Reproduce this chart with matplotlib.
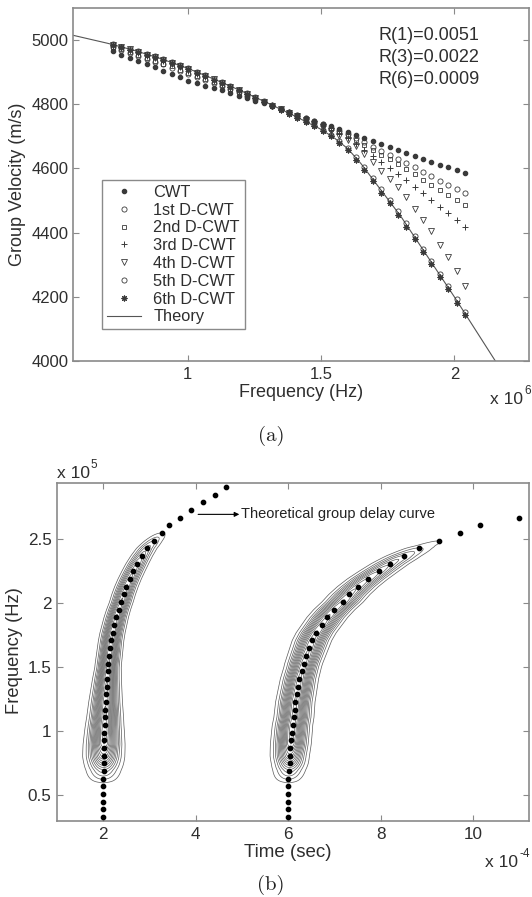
import numpy as np
import matplotlib
matplotlib.use('Agg')
import matplotlib.pyplot as plt

plt.rcParams['font.family'] = ['Liberation Sans', 'DejaVu Sans']

# ---------------- (a) group velocity data ----------------
freq_a = [0.720, 0.751, 0.783, 0.814, 0.846, 0.877, 0.909, 0.940, 0.971, 1.003,
          1.034, 1.066, 1.097, 1.129, 1.160, 1.191, 1.223, 1.254, 1.286, 1.317,
          1.349, 1.380, 1.411, 1.443, 1.474, 1.506, 1.537, 1.569, 1.600, 1.631,
          1.663, 1.694, 1.726, 1.757, 1.789, 1.820, 1.851, 1.883, 1.914, 1.946,
          1.977, 2.009, 2.040]
cwt = [4965, 4955, 4945, 4935, 4925, 4915, 4905, 4895, 4885, 4874, 4866, 4858, 4850, 4843, 4835,
       4827, 4819, 4811, 4803, 4795, 4786, 4777, 4768, 4758, 4749, 4740, 4731, 4722, 4713, 4704,
       4694, 4685, 4676, 4667, 4658, 4649, 4640, 4631, 4621, 4612, 4603, 4594, 4585]
dcwt1 = [4977, 4968, 4960, 4951, 4942, 4933, 4924, 4914, 4905, 4894, 4885, 4876, 4866, 4857, 4847,
         4837, 4827, 4816, 4806, 4796, 4786, 4776, 4767, 4756, 4747, 4737, 4727, 4716, 4706, 4694,
         4681, 4668, 4655, 4642, 4630, 4617, 4603, 4590, 4576, 4562, 4549, 4535, 4522]
dcwt2 = [4979, 4971, 4963, 4954, 4945, 4936, 4927, 4918, 4908, 4898, 4888, 4879, 4869, 4859, 4849,
         4839, 4828, 4817, 4807, 4796, 4786, 4776, 4766, 4755, 4745, 4735, 4724, 4713, 4701, 4688,
         4673, 4658, 4643, 4628, 4613, 4597, 4582, 4565, 4549, 4533, 4517, 4501, 4485]
dcwt3 = [4983, 4975, 4968, 4960, 4951, 4943, 4934, 4925, 4916, 4905, 4895, 4885, 4875, 4864, 4853,
         4842, 4831, 4819, 4808, 4797, 4785, 4775, 4765, 4753, 4743, 4732, 4720, 4707, 4694, 4677,
         4659, 4640, 4621, 4602, 4584, 4564, 4543, 4523, 4502, 4481, 4461, 4440, 4419]
dcwt4 = [4985, 4978, 4971, 4963, 4955, 4947, 4938, 4929, 4920, 4910, 4899, 4889, 4878, 4867, 4855,
         4844, 4832, 4820, 4808, 4796, 4785, 4774, 4762, 4751, 4740, 4729, 4716, 4702, 4689, 4669,
         4646, 4620, 4591, 4567, 4542, 4510, 4474, 4439, 4404, 4363, 4323, 4280, 4234]
dcwt5 = [4987, 4980, 4973, 4965, 4957, 4949, 4940, 4931, 4922, 4912, 4901, 4891, 4880, 4869, 4857,
         4846, 4834, 4822, 4810, 4798, 4786, 4774, 4761, 4748, 4735, 4721, 4704, 4684, 4664, 4637,
         4605, 4571, 4535, 4501, 4466, 4429, 4390, 4350, 4312, 4272, 4233, 4192, 4152]
dcwt6 = [4984, 4977, 4970, 4962, 4954, 4946, 4937, 4928, 4919, 4909, 4898, 4888, 4877, 4866, 4854,
         4843, 4831, 4819, 4807, 4795, 4782, 4770, 4757, 4744, 4731, 4717, 4700, 4680, 4656, 4627,
         4595, 4561, 4525, 4491, 4456, 4419, 4380, 4340, 4302, 4262, 4223, 4182, 4142]
theory_f = [0.57, 0.70, 0.80, 0.90, 1.00, 1.10, 1.20, 1.30, 1.40, 1.50, 1.55, 1.60, 1.65,
            1.70, 1.80, 1.90, 2.00, 2.10, 2.20, 2.28]
theory_v = [5015, 4990, 4968, 4942, 4912, 4878, 4842, 4804, 4764, 4722, 4695, 4662, 4615,
            4560, 4450, 4325, 4200, 4070, 3940, 3835]
legend_labels = ['CWT', '1st D-CWT', '2nd D-CWT', '3rd D-CWT', '4th D-CWT',
                 '5th D-CWT', '6th D-CWT', 'Theory']
r_texts = ['R(1)=0.0051', 'R(3)=0.0022', 'R(6)=0.0009']

# ---------------- (b) group delay data ----------------
freq_b = [0.33, 0.39, 0.45, 0.51, 0.57, 0.63, 0.69, 0.75, 0.81, 0.87, 0.93, 0.99, 1.05,
          1.11, 1.17, 1.23, 1.29, 1.35, 1.41, 1.47, 1.53, 1.59, 1.65, 1.71, 1.77, 1.83,
          1.89, 1.95, 2.01, 2.07, 2.13, 2.19, 2.25, 2.31, 2.37, 2.43, 2.49, 2.55, 2.61,
          2.67, 2.73, 2.79, 2.85, 2.91]
delay1 = [2.00, 2.00, 2.00, 2.00, 2.00, 2.00, 2.005, 2.01, 2.01, 2.015, 2.02, 2.025, 2.03,
          2.04, 2.045, 2.05, 2.06, 2.07, 2.08, 2.095, 2.11, 2.13, 2.15, 2.17, 2.20, 2.24,
          2.28, 2.33, 2.39, 2.44, 2.50, 2.57, 2.65, 2.735, 2.83, 2.94, 3.09, 3.26, 3.43,
          3.66, 3.90, 4.15, 4.41, 4.65]
delay2 = [6.00, 6.00, 6.00, 6.00, 6.00, 6.00, 6.015, 6.03, 6.03, 6.045, 6.06, 6.075, 6.09,
          6.12, 6.135, 6.15, 6.18, 6.21, 6.24, 6.285, 6.33, 6.39, 6.45, 6.51, 6.60, 6.72,
          6.84, 6.99, 7.17, 7.32, 7.50, 7.71, 7.95, 8.20, 8.49, 8.82, 9.25, 9.70, 10.15,
          10.98, 11.70, 12.45, 13.23, 13.95]
# ridge envelope of the scalogram (contours)
amp1_f = [0.50, 0.60, 0.70, 0.80, 0.90, 1.00, 1.20, 1.50, 1.80, 2.10, 2.30, 2.45, 2.55, 2.65]
amp1_v = [0.00, 0.05, 0.30, 0.70, 0.95, 1.00, 0.95, 0.85, 0.75, 0.60, 0.45, 0.25, 0.05, 0.00]
wid1_f = [0.5, 0.8, 1.5, 2.0, 2.5]
wid1_v = [0.30, 0.28, 0.17, 0.16, 0.17]
amp2_f = [0.50, 0.60, 0.70, 0.80, 0.90, 1.00, 1.30, 1.70, 2.00, 2.20, 2.35, 2.45, 2.55]
amp2_v = [0.00, 0.05, 0.30, 0.70, 0.95, 1.00, 0.95, 0.80, 0.65, 0.50, 0.30, 0.08, 0.00]
wid2_f = [0.5, 0.8, 1.5, 2.0, 2.5]
wid2_v = [0.28, 0.26, 0.24, 0.28, 0.30]

spine_c = '#8a8a8a'
text_c = '#2e2e2e'

fig = plt.figure(figsize=(5.32, 8.97), dpi=100)
fig.patch.set_facecolor('white')

def style_axes(ax, fs, ypad):
    for s in ax.spines.values():
        s.set_color(spine_c)
        s.set_linewidth(1.2)
    ax.tick_params(direction='in', top=True, right=True, length=4, width=0.8,
                   color=spine_c, labelsize=fs, labelcolor=text_c)
    ax.tick_params(axis='x', pad=4)
    ax.tick_params(axis='y', pad=ypad)

# ---------------- panel (a) ----------------
ax1 = fig.add_axes([73/532, 1-361/897, 456/532, 353/897])
mc = '#3a3a3a'
ax1.plot(theory_f, theory_v, '-', color='#555555', lw=0.8, zorder=1)
ax1.plot(freq_a, cwt, 'o', ms=3.0, color=mc, mec=mc, ls='none', zorder=3)
ax1.plot(freq_a, dcwt1, 'o', ms=3.7, mfc='none', mec=mc, mew=0.6, ls='none', zorder=3)
ax1.plot(freq_a, dcwt2, 's', ms=3.2, mfc='none', mec=mc, mew=0.6, ls='none', zorder=3)
ax1.plot(freq_a, dcwt3, '+', ms=4.6, mec=mc, mew=0.7, ls='none', zorder=3)
ax1.plot(freq_a, dcwt4, 'v', ms=4.0, mfc='none', mec=mc, mew=0.6, ls='none', zorder=3)
ax1.plot(freq_a, dcwt5, 'o', ms=3.7, mfc='none', mec=mc, mew=0.6, ls='none', zorder=3)
ax1.plot(freq_a, dcwt6, marker=(8, 2, 0), ms=4.2, mec=mc, mew=0.8, ls='none', zorder=3)
ax1.set_xlim(0.57, 2.28)
ax1.set_ylim(4000, 5100)
ax1.set_xticks([1, 1.5, 2])
ax1.set_xticklabels(['1', '1.5', '2'])
ax1.set_yticks([4000, 4200, 4400, 4600, 4800, 5000])
style_axes(ax1, 12, 3)
ax1.set_xlabel('Frequency (Hz)', fontsize=13, color=text_c)
ax1.set_ylabel('Group Velocity (m/s)', fontsize=13, color=text_c)
ax1.xaxis.set_label_coords(0.5, -0.088, transform=ax1.transAxes)
ax1.xaxis.label.set_va('center')
ax1.yaxis.set_label_coords(-0.121, 0.5, transform=ax1.transAxes)
ax1.yaxis.label.set_va('center')

handles = ax1.get_lines()
order = [1, 2, 3, 4, 5, 6, 7, 0]
leg = ax1.legend([handles[i] for i in order], legend_labels, loc='lower left',
                 bbox_to_anchor=(0.063, 0.090), fontsize=11.8, frameon=True, fancybox=False,
                 framealpha=1, edgecolor=spine_c, labelspacing=0.17, handlelength=2.1,
                 handletextpad=0.75, borderpad=0.3, borderaxespad=0)
leg.get_frame().set_linewidth(1.0)
for t in leg.get_texts():
    t.set_color(text_c)

for i, s in enumerate(r_texts):
    fig.text(378/532, 1-(36+22*i)/897, s, fontsize=13, color=text_c, ha='left', va='center')
fig.text(490/532, 1-399/897, 'x 10', fontsize=12.5, color=text_c, ha='left', va='center')
fig.text(524/532, 1-391/897, '6', fontsize=8.5, color=text_c, ha='left', va='center')
fig.text(271/532, 1-436/897, '(a)', fontsize=15, family='cmr10', color='#222222',
         ha='center', va='center')

# ---------------- panel (b) ----------------
ax2 = fig.add_axes([57/532, 1-821/897, 472/532, 338/897])
T = np.linspace(1.0, 11.2, 700)
F = np.linspace(0.30, 2.94, 500)
TT, FF = np.meshgrid(T, F)

def ridge(tc_arr, af, av, wf, wv):
    tc = np.interp(F, freq_b, tc_arr)[:, None]
    A = np.interp(F, af, av)[:, None]
    w = np.interp(F, wf, wv)[:, None]
    return A * np.exp(-((TT - tc) / w) ** 2)

Z = ridge(delay1, amp1_f, amp1_v, wid1_f, wid1_v) + ridge(delay2, amp2_f, amp2_v, wid2_f, wid2_v)
ax2.contour(T, F, Z, levels=np.linspace(0.05, 0.95, 15), colors='#5a5a5a', linewidths=0.5)
ax2.plot(delay1, freq_b, 'o', ms=3.1, color='black', ls='none', zorder=4)
ax2.plot(delay2, freq_b, 'o', ms=3.1, color='black', ls='none', zorder=4)
ax2.set_xlim(1.0, 11.2)
ax2.set_ylim(0.30, 2.94)
ax2.set_xticks([2, 4, 6, 8, 10])
ax2.set_yticks([0.5, 1, 1.5, 2, 2.5])
ax2.set_yticklabels(['0.5', '1', '1.5', '2', '2.5'])
style_axes(ax2, 12.3, 4)
ax2.set_xlabel('Time (sec)', fontsize=13.5, color=text_c)
ax2.set_ylabel('Frequency (Hz)', fontsize=13.2, color=text_c)
ax2.xaxis.set_label_coords(0.489, -0.092, transform=ax2.transAxes)
ax2.xaxis.label.set_va('center')
ax2.yaxis.set_label_coords(-0.091, 0.505, transform=ax2.transAxes)
ax2.yaxis.label.set_va('center')
ax2.annotate('', xy=(4.94, 2.695), xytext=(4.05, 2.695),
             arrowprops=dict(arrowstyle='-|>', lw=0.8, color='black', mutation_scale=7,
                             shrinkA=0, shrinkB=0))
ax2.text(4.98, 2.695, 'Theoretical group delay curve', fontsize=10.5, color='#222222',
         ha='left', va='center')
fig.text(57/532, 1-473/897, 'x 10', fontsize=12.5, color=text_c, ha='left', va='center')
fig.text(90/532, 1-465/897, '5', fontsize=8.5, color=text_c, ha='left', va='center')
fig.text(485/532, 1-862/897, 'x 10', fontsize=12.5, color=text_c, ha='left', va='center')
fig.text(519/532, 1-854/897, '-4', fontsize=8.5, color=text_c, ha='left', va='center')
fig.text(271/532, 1-885/897, '(b)', fontsize=15, family='cmr10', color='#222222',
         ha='center', va='center')

fig.savefig('out.png', dpi=100, facecolor='white')
